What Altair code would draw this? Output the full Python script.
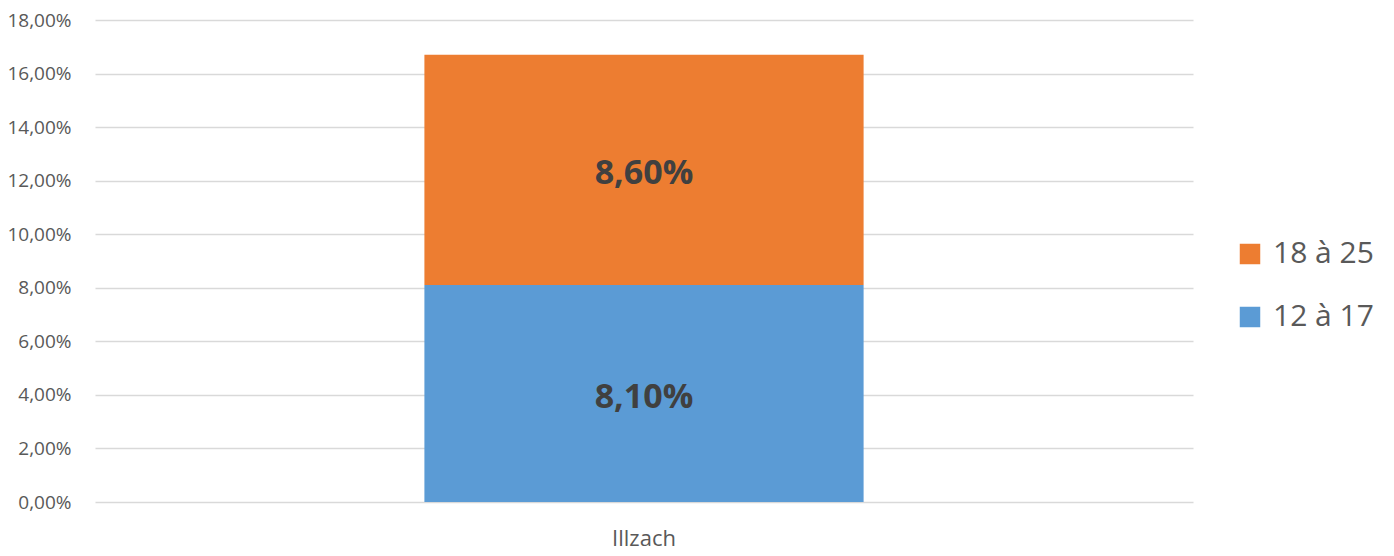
import altair as alt
import pandas as pd

categories = ["Illzach", "Illzach"]
series = ["12 à 17", "18 à 25"]
values = [8.10, 8.60]
labels = ["8,10%", "8,60%"]
orders = [0, 1]

df = pd.DataFrame({"cat": categories, "series": series, "value": values,
                   "label": labels, "order": orders})

font = "Open Sans"

base = alt.Chart(df).encode(
    x=alt.X("cat:N", title=None,
            scale=alt.Scale(paddingInner=0, paddingOuter=0.75),
            axis=alt.Axis(labelAngle=0, labelFontSize=22, labelColor="#595959",
                          labelFont=font, ticks=False, domain=False, labelPadding=26)),
)

bars = base.mark_bar().encode(
    y=alt.Y("value:Q", stack="zero", title=None,
            scale=alt.Scale(domain=[0, 18]),
            axis=alt.Axis(values=list(range(0, 19, 2)),
                          labelExpr="replace(format(datum.value, '.2f'), '.', ',') + '%'",
                          labelFontSize=19, labelColor="#595959", labelFont=font,
                          ticks=False, domain=False, gridColor="#d9d9d9",
                          gridWidth=1.3, labelPadding=24)),
    color=alt.Color("series:N",
                    scale=alt.Scale(domain=["18 à 25", "12 à 17"],
                                    range=["#ED7D31", "#5B9BD5"]),
                    legend=alt.Legend(title=None, orient="none", legendX=1140, legendY=219,
                                      symbolType="square", symbolSize=420,
                                      labelFontSize=30, labelColor="#595959",
                                      labelFont=font, rowPadding=33, symbolStrokeWidth=0,
                                      labelOffset=8)),
    order=alt.Order("order:Q"),
)

text = base.mark_text(fontSize=34, fontWeight="bold", color="#404040", font=font,
                      baseline="middle", dy=4).encode(
    y=alt.Y("mid:Q"),
    text="label:N",
).transform_stack(stack="value", groupby=["cat"], as_=["v0", "v1"],
                  sort=[alt.SortField("order")]).transform_calculate(
    mid="(datum.v0 + datum.v1) / 2")

chart = (bars + text).properties(
    width=1098, height=482,
    autosize=alt.AutoSizeParams(type="none"),
    padding={"left": 87, "top": 12, "right": 193, "bottom": 54},
).configure_view(stroke=None)

chart.save("out.html", embed_options={"renderer": "svg", "actions": False})
